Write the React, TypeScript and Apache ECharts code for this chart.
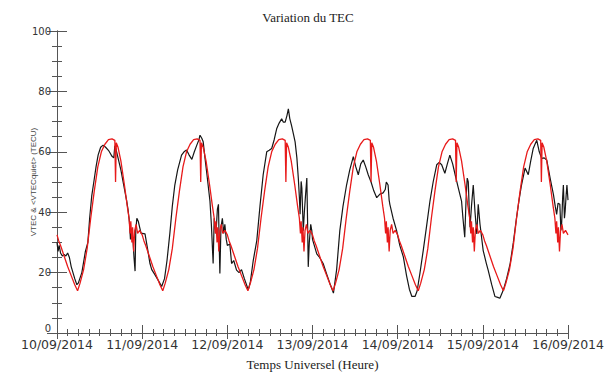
import React, { useEffect, useRef } from "react";
import * as echarts from "echarts";

const dateLabels = ["10/09/2014", "11/09/2014", "12/09/2014", "13/09/2014", "14/09/2014", "15/09/2014", "16/09/2014"];

// Quiet-day mean VTEC (hour of day, TECU), repeated each day
const quietProfile: [number, number][] = [
  [0, 32.5], [0.5, 30.5], [1, 29], [2, 25.5], [3, 22], [4, 19], [5, 16], [5.8, 14], [6.5, 16.5], [7.5, 21],
  [8.5, 28], [9.5, 38], [10.5, 47], [11.5, 55], [12.5, 60], [13.5, 62.5], [14.5, 64], [15.5, 64.3],
  [16.3, 63.8], [16.5, 50], [16.7, 63], [17.2, 61.5], [18, 57], [19, 49], [19.8, 42], [20.3, 38],
  [20.6, 33], [20.8, 37], [21.1, 30], [21.3, 35], [21.6, 27], [21.9, 34], [22.3, 36], [22.7, 33],
  [23.3, 34], [24, 32.5],
];

// Observed VTEC (hours since 10/09/2014 00:00 UT, TECU)
const vtecDay1: [number, number][] = [
  [0, 30], [0.3, 27], [0.6, 29], [1, 26.5], [1.5, 25.5], [2, 26], [2.5, 25.5], [3, 26.5], [3.5, 25],
  [4, 22], [4.5, 20], [5, 18], [5.6, 16], [6, 16.5], [7, 20], [8, 27], [8.7, 30], [9.2, 38], [9.8, 45.5],
  [10.5, 51], [11, 55], [11.6, 59], [12.3, 61.5], [13, 62.2], [13.7, 61.5], [14.5, 60.5], [15, 59.5],
  [15.5, 58.5], [16, 58], [16.3, 62], [16.6, 61], [17.2, 58], [18, 54], [18.8, 49], [19.6, 44], [20, 41],
  [20.4, 37], [20.7, 31], [21, 34], [21.4, 31], [21.7, 25], [22, 20.5], [22.2, 34], [22.5, 38], [22.9, 37],
  [23.3, 35], [23.7, 33], [24, 33],
];
const vtecDay2: [number, number][] = [
  [24.8, 32.8], [25.5, 28], [26.2, 23], [26.7, 21], [27.5, 19.5], [28.5, 17.5], [29.5, 15.4], [30.3, 18],
  [31, 24], [31.8, 33], [32.5, 42], [33.2, 49], [34, 54], [35.1, 58.9], [35.8, 60], [36.5, 60.6], [37.2, 59],
  [38, 57.5], [38.7, 60], [39.4, 62.2], [40, 64], [40.3, 65.5], [40.8, 64.5], [41.2, 63.3], [41.7, 58],
  [42.3, 52], [43.1, 43.7], [43.5, 36], [44, 23], [44.3, 38], [44.8, 33], [45.2, 41], [45.5, 42.6],
  [45.7, 30], [45.9, 19.7], [46.2, 35], [46.6, 38], [47, 33], [47.3, 36], [47.7, 31], [48, 29],
];
const vtecDay3: [number, number][] = [
  [48.7, 29.5], [49.2, 23], [49.8, 24], [50.6, 20.8], [51.3, 20], [52, 21], [52.8, 18], [53.9, 14.3],
  [54.5, 17], [55.3, 24], [56.3, 30.6], [57.2, 42], [58.1, 52.4], [59.1, 60], [59.8, 60.5], [60.5, 61.1],
  [61.2, 64], [61.9, 67.6], [62.6, 69.5], [63.3, 70.9], [63.8, 69.8], [64.3, 69.8], [64.8, 72], [65.2, 74.2],
  [65.6, 71], [66.1, 68.7], [66.6, 66], [67.1, 63.3], [67.6, 58], [68, 51.3], [68.3, 45], [68.5, 39.3],
  [68.8, 50.2], [69, 48], [69.4, 33.9], [69.7, 40], [70, 45], [70.4, 51.3], [70.6, 38], [70.8, 21.9],
  [71.1, 30], [71.5, 36], [71.8, 33.9], [72, 31],
];
const vtecDay4: [number, number][] = [
  [72.5, 29], [73.2, 26.2], [74, 25], [75, 23], [76, 19.5], [76.9, 16.4], [77.9, 13.2],
  [78.8, 21], [79.7, 33.9], [80.6, 42], [81.6, 49], [82.5, 54], [83.5, 58.4], [84.2, 55], [84.9, 52.4],
  [85.6, 56], [86.3, 57.3], [87, 55], [87.7, 52.4], [88.5, 50], [89.3, 47], [90.1, 44.8], [91, 46],
  [91.9, 46.4], [92.5, 47.5], [92.8, 50], [93.3, 49], [93.6, 44], [93.8, 42.6], [94.7, 38], [95.7, 33.9],
];
const vtecDay5: [number, number][] = [
  [96.6, 29], [97.6, 25.2], [98.5, 19], [99.3, 14.5], [100, 12.1], [100.9, 12.1],
  [101.5, 14], [102.3, 20], [103.2, 27.3], [104.1, 35], [105.1, 43.7], [106, 50], [107, 55.7], [107.7, 56.5],
  [108.4, 55.7], [109.3, 52.9], [110, 56], [110.7, 58.9], [111.5, 56], [112.2, 52.4], [113.1, 48], [114, 43.7],
  [114.4, 38], [114.9, 31.7], [115.3, 45], [115.6, 51.3], [115.9, 50], [116.2, 40], [116.4, 35], [116.8, 42],
  [117.3, 49], [117.8, 40], [118.3, 32.8], [118.7, 42.6], [119.2, 36],
];
const vtecDay6: [number, number][] = [
  [120.1, 27.3], [121, 23], [121.5, 20.8], [122.5, 16], [123.4, 12.1], [124.2, 11.8], [124.8, 11.5], [125.8, 14.3],
  [126.7, 18], [127.7, 23], [128.6, 30], [129.5, 38.2], [130.2, 44], [130.9, 49], [131.9, 54.6], [132.8, 52.4],
  [133.5, 57], [134.2, 61.1], [134.7, 62.5], [135.2, 63.8], [135.9, 60], [136.6, 57.8], [137.3, 58], [138, 57.3],
  [139, 51], [139.9, 45.8], [140.4, 42], [140.8, 39.3], [141.2, 43], [141.7, 42.6], [142, 34], [142.2, 36],
  [142.5, 45], [142.7, 49], [143, 38], [143.2, 40.4], [143.5, 46], [143.7, 49], [144, 44],
];

const numDays = 6;

export default function App() {
  const ref = useRef<HTMLDivElement>(null);
  useEffect(() => {
    if (!ref.current) return;
    const chart = echarts.init(ref.current, null, { renderer: "svg" });

    const vtec = [...vtecDay1, ...vtecDay2, ...vtecDay3, ...vtecDay4, ...vtecDay5, ...vtecDay6];
    const quiet: [number, number][] = [];
    for (let d = 0; d < numDays; d++) {
      quietProfile.forEach(([h, v], i) => {
        if (i === quietProfile.length - 1 && d < numDays - 1) return;
        quiet.push([d * 24 + h, v]);
      });
    }

    const axisColor = "#555";
    const labelColor = "#333";

    chart.setOption({
      animation: false,
      backgroundColor: "#fff",
      graphic: [
        {
          type: "text",
          x: 308,
          y: 17,
          style: {
            text: "Variation du TEC",
            font: '13px "Liberation Serif"',
            fill: "#222",
            textAlign: "center",
            textVerticalAlign: "middle",
          },
        },
      ],
      grid: { left: 57, right: 43, top: 31, bottom: 39, containLabel: false },
      xAxis: [
        {
          type: "value",
          min: 0,
          max: 144,
          interval: 24,
          position: "bottom",
          name: "Temps Universel (Heure)",
          nameLocation: "middle",
          nameGap: 25,
          nameMoveOverlap: false,
          nameTextStyle: { fontFamily: "Liberation Serif", fontSize: 13, color: "#222" },
          axisLine: { show: true, lineStyle: { color: axisColor, width: 1 } },
          axisTick: { show: true, inside: true, length: 8, lineStyle: { color: axisColor } },
          minorTick: { show: true, splitNumber: 8, length: 4, lineStyle: { color: axisColor } },
          axisLabel: {
            margin: 5,
            fontFamily: "DejaVu Sans",
            fontSize: 12.5,
            color: labelColor,
            formatter: (v: number) => dateLabels[Math.round(v / 24)] ?? "",
          },
          splitLine: { show: false },
          minorSplitLine: { show: false },
        },
        {
          type: "value",
          min: 0,
          max: 144,
          interval: 24,
          position: "top",
          axisLine: { show: true, lineStyle: { color: axisColor, width: 1 } },
          axisTick: { show: true, inside: true, length: 6, lineStyle: { color: axisColor } },
          minorTick: { show: true, splitNumber: 8, length: 3, lineStyle: { color: axisColor } },
          axisLabel: { show: false },
          splitLine: { show: false },
        },
      ],
      yAxis: [
        {
          type: "value",
          min: 0,
          max: 100,
          interval: 20,
          position: "left",
          name: "VTEC & <VTECquiet> (TECU)",
          nameLocation: "middle",
          nameGap: 20,
          nameMoveOverlap: false,
          nameTextStyle: { fontFamily: "Liberation Sans", fontSize: 8, color: "#444" },
          axisLine: { show: true, lineStyle: { color: axisColor, width: 1 } },
          axisTick: { show: true, inside: true, length: 10, lineStyle: { color: axisColor } },
          minorTick: { show: true, splitNumber: 4, length: 5, lineStyle: { color: axisColor } },
          axisLabel: {
            margin: 6,
            fontFamily: "DejaVu Sans",
            fontSize: 10,
            color: labelColor,
            verticalAlignMinLabel: "bottom",
          },
          splitLine: { show: false },
          minorSplitLine: { show: false },
        },
        {
          type: "value",
          min: 0,
          max: 100,
          interval: 20,
          position: "right",
          axisLine: { show: true, lineStyle: { color: axisColor, width: 1 } },
          axisTick: { show: true, inside: true, length: 10, lineStyle: { color: axisColor } },
          minorTick: { show: true, splitNumber: 4, length: 5, lineStyle: { color: axisColor } },
          axisLabel: { show: false },
          splitLine: { show: false },
        },
      ],
      series: [
        {
          name: "VTEC",
          type: "line",
          xAxisIndex: 0,
          yAxisIndex: 0,
          data: vtec,
          showSymbol: false,
          symbol: "none",
          lineStyle: { color: "#161616", width: 1.2 },
          z: 2,
        },
        {
          name: "VTECquiet",
          type: "line",
          xAxisIndex: 0,
          yAxisIndex: 0,
          data: quiet,
          showSymbol: false,
          symbol: "none",
          lineStyle: { color: "#e81a1a", width: 1.3 },
          z: 3,
        },
      ],
    });
    return () => chart.dispose();
  }, []);
  return <div ref={ref} style={{ width: 611, height: 376, position: "absolute", left: 0, top: 0 }} />;
}
